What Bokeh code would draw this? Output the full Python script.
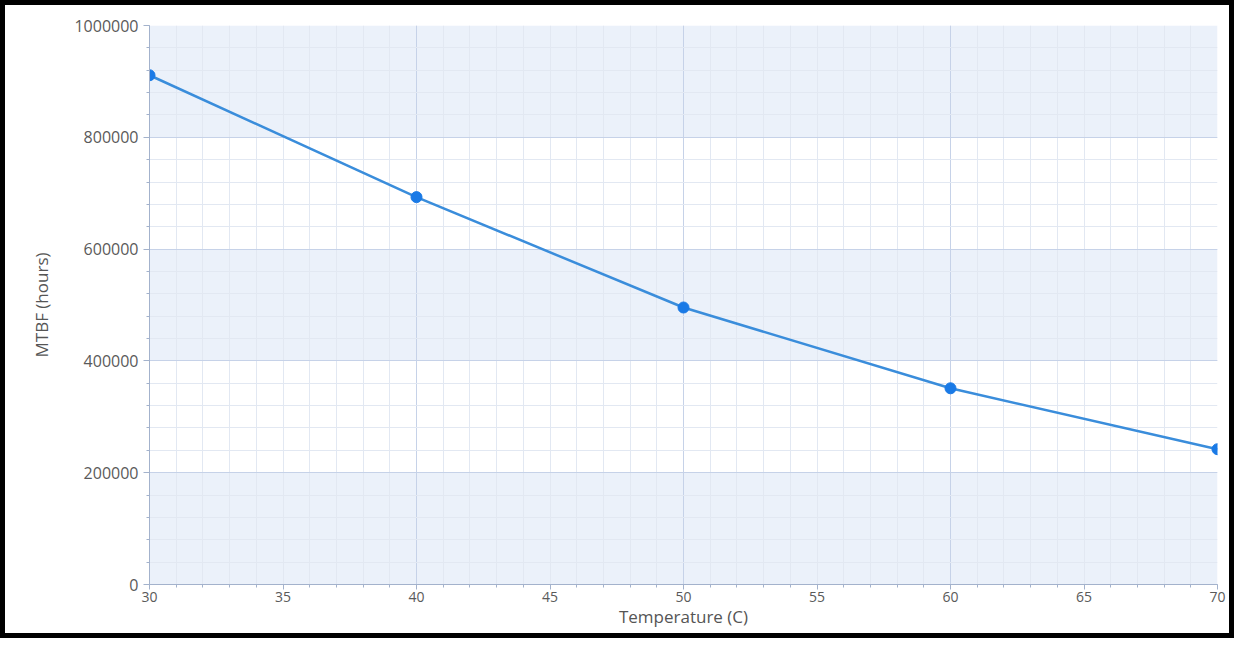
from bokeh.plotting import figure
from bokeh.embed import file_html
from bokeh.resources import INLINE
from bokeh.models import FixedTicker, Range1d, BoxAnnotation

temperature = [30, 40, 50, 60, 70]
mtbf_hours = [911000, 693000, 495500, 351000, 242000]
x_ticks = [30, 35, 40, 45, 50, 55, 60, 65, 70]
x_grid_major = [30, 40, 50, 60, 70]
x_minor = list(range(30, 71))
y_ticks = [0, 200000, 400000, 600000, 800000, 1000000]
y_minor = list(range(0, 1000001, 40000))

p = figure(width=1234, height=638, output_backend="svg", toolbar_location=None,
           x_range=Range1d(30, 70), y_range=Range1d(0, 1000000),
           min_border_left=144, min_border_top=20, min_border_right=22, min_border_bottom=59)
p.styles = {"border": "5px solid black", "box-sizing": "border-box"}
p.background_fill_color = "white"
p.outline_line_color = None

# alternating shaded bands, starting from the lowest tick interval
for i in range(0, len(y_ticks) - 1, 2):
    p.add_layout(BoxAnnotation(bottom=y_ticks[i], top=y_ticks[i + 1], level="image",
                               fill_color="#e9f0fa", fill_alpha=0.9, line_color=None))

p.xaxis.ticker = FixedTicker(ticks=x_ticks, minor_ticks=x_minor)
p.yaxis.ticker = FixedTicker(ticks=y_ticks, minor_ticks=y_minor)
p.xgrid.ticker = FixedTicker(ticks=x_grid_major, minor_ticks=x_minor)
p.ygrid.ticker = FixedTicker(ticks=y_ticks, minor_ticks=y_minor)

grid_major = "#c6d2e8"
grid_minor = "#e2e8f2"
for g in (p.xgrid, p.ygrid):
    g.grid_line_color = grid_major
    g.grid_line_width = 1
    g.minor_grid_line_color = grid_minor
    g.minor_grid_line_width = 1
    g.level = "underlay"

for ax in (p.xaxis, p.yaxis):
    ax.axis_line_color = "#a3b2cc"
    ax.major_tick_line_color = "#a3b2cc"
    ax.minor_tick_line_color = "#a3b2cc"
    ax.major_tick_out = 6
    ax.major_tick_in = 0
    ax.minor_tick_out = 3
    ax.minor_tick_in = 0
    ax.major_label_text_font = "Open Sans"
    ax.major_label_text_color = "#5a5a5a"
    ax.axis_label_text_font = "Open Sans"
    ax.axis_label_text_font_style = "normal"
    ax.axis_label_text_color = "#555555"

p.xaxis.major_tick_out = 5
p.xaxis.major_label_text_font_size = "14px"
p.yaxis.major_label_text_font_size = "16px"
p.yaxis.formatter.use_scientific = False
p.yaxis.axis_label = "MTBF (hours)"
p.yaxis.axis_label_text_font_size = "17px"
p.yaxis.axis_label_standoff = 18
p.xaxis.axis_label = "Temperature (C)"
p.xaxis.axis_label_text_font_size = "17px"
p.xaxis.axis_label_standoff = 0
p.xaxis.major_label_standoff = 2

p.line(temperature, mtbf_hours, line_color="#3a8ddb", line_width=2.5)
p.scatter(temperature, mtbf_hours, size=11, fill_color="#1a7ae6", line_color="#1a7ae6")

open("out.html", "w").write(file_html(p, INLINE))
